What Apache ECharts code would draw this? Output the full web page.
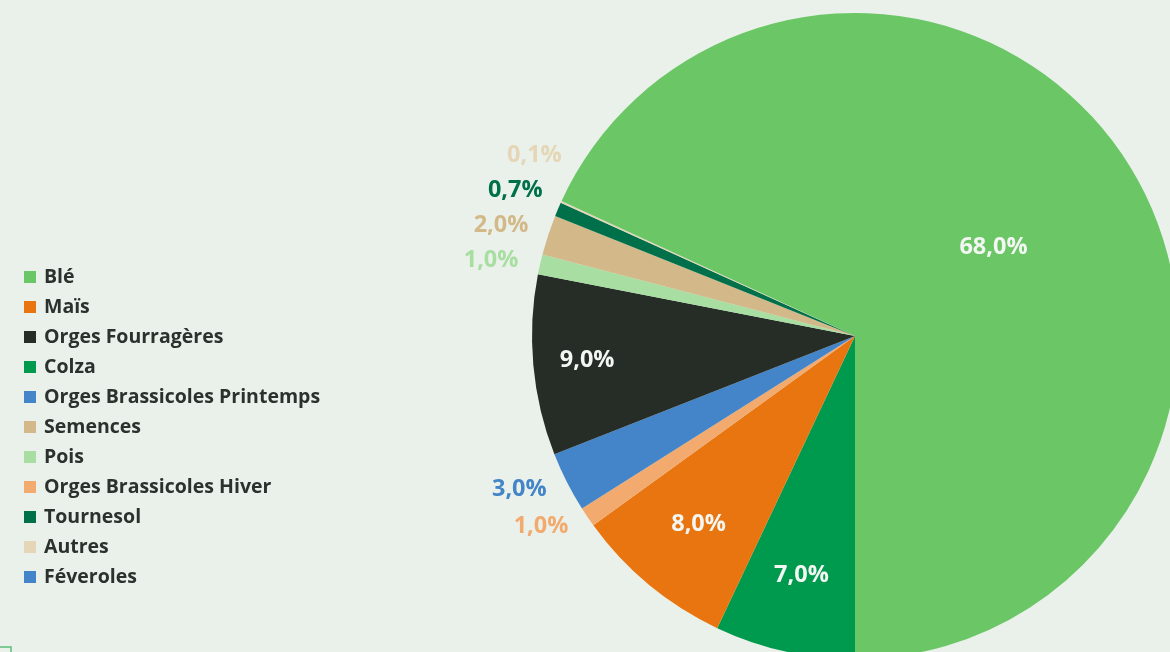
<!DOCTYPE html>
<html>
<head>
<meta charset="utf-8">
<script src="https://cdn.jsdelivr.net/npm/echarts@6/dist/echarts.min.js"></script>
<style>
html,body{margin:0;padding:0;background:#eaf1ea;}
#chart{width:1170px;height:652px;}
</style>
</head>
<body>
<div id="chart"></div>
<script>
// Slice order as drawn (clockwise from 6 o'clock: Colza ... Blé last)
const sliceNames = ['Colza','Maïs','Orges Brassicoles Hiver','Orges Brassicoles Printemps','Orges Fourragères','Pois','Semences','Tournesol','Autres','Féveroles','Blé'];
const sliceValues = [7.0, 8.0, 1.0, 3.0, 9.0, 1.0, 2.0, 0.7, 0.1, 0, 68.0];
const legendOrder = ['Blé','Maïs','Orges Fourragères','Colza','Orges Brassicoles Printemps','Semences','Pois','Orges Brassicoles Hiver','Tournesol','Autres','Féveroles'];
const colorMap = {
  'Blé':'#6bc766','Maïs':'#e8750f','Orges Fourragères':'#262d27','Colza':'#009a4e',
  'Orges Brassicoles Printemps':'#4385c8','Semences':'#d3b98a','Pois':'#a8dea2',
  'Orges Brassicoles Hiver':'#f2aa6f','Tournesol':'#00704a','Autres':'#e4d6b6','Féveroles':'#4385c8'
};
const insideMain = ['Blé'];
const ringLabels = [['Orges Fourragères'], ['Maïs','Colza']];
const ringRadii = [532, 484];
const upperLeft = ['Pois','Semences','Tournesol','Autres'];

const CX = 855, CY = 336, R = 323, LABEL_R = 340, GAP = 35;
const FONT = '"Open Sans", "Noto Sans", sans-serif';
const fmt = v => v.toFixed(1).replace('.', ',') + '%';
const inRing = n => ringLabels.some(g => g.includes(n));

const mainData = sliceNames.map((n, i) => {
  const d = {name: n, value: sliceValues[i], itemStyle: {color: colorMap[n]}};
  if (n === 'Féveroles' || inRing(n)) {
    d.label = {show: false};
  } else if (insideMain.includes(n)) {
    d.label = {show: true, position: 'inside', color: '#f3f6f3'};
  } else {
    d.label = {show: true, position: 'outside', color: colorMap[n]};
  }
  return d;
});

let prevCenter = null;
function outsideLayout(p) {
  const name = sliceNames[p.dataIndex];
  if (insideMain.includes(name) || inRing(name) || name === 'Féveroles') return {};
  const r = p.labelRect;
  let yc = r.y + r.height / 2;
  if (name === 'Pois') prevCenter = yc;
  else if (upperLeft.includes(name) && prevCenter != null) {
    yc = Math.min(yc, prevCenter - GAP);
    prevCenter = yc;
  }
  const dy = yc - CY;
  const x = CX - Math.sqrt(Math.max(0, LABEL_R * LABEL_R - dy * dy)) - 5;
  return {x: x, y: yc, align: 'right', verticalAlign: 'middle'};
}

const labelFont = {fontFamily: FONT, fontWeight: 'bold', fontSize: 23.5};

const series = [{
  type: 'pie',
  center: [CX, CY],
  radius: [0, R],
  startAngle: -90,
  clockwise: true,
  avoidLabelOverlap: false,
  data: mainData,
  label: Object.assign({formatter: p => fmt(p.value)}, labelFont),
  labelLine: {show: false, length: LABEL_R - R, length2: 0},
  labelLayout: outsideLayout,
  emphasis: {disabled: true}
}];

ringLabels.forEach((group, gi) => {
  series.push({
    type: 'pie',
    center: [CX, CY],
    radius: [0, ringRadii[gi]],
    startAngle: -90,
    clockwise: true,
    silent: true,
    avoidLabelOverlap: false,
    data: sliceNames.map((n, i) => ({
      name: n, value: sliceValues[i],
      itemStyle: {color: 'rgba(0,0,0,0)'},
      label: {show: group.includes(n), position: 'inside', color: '#f3f6f3'}
    })),
    label: Object.assign({formatter: p => fmt(p.value)}, labelFont),
    labelLine: {show: false},
    emphasis: {disabled: true}
  });
});

const chart = echarts.init(document.getElementById('chart'), null, {renderer: 'canvas'});
chart.setOption({
  backgroundColor: '#eaf1ea',
  animation: false,
  legend: {
    orient: 'vertical',
    left: 24,
    top: 267,
    padding: 0,
    data: legendOrder,
    icon: 'rect',
    itemWidth: 12,
    itemHeight: 12,
    itemGap: 10,
    textStyle: {fontFamily: FONT, fontWeight: 'bold', fontSize: 19.5, color: '#2b312c', lineHeight: 20, padding: [0, 0, 0, 3]},
    selectedMode: false
  },
  series: series,
  graphic: [
    {type: 'rect', shape: {x: -6, y: 647, width: 17, height: 20},
     style: {fill: 'rgba(0,0,0,0)', stroke: '#5dbd7c', lineWidth: 1.5}}
  ]
});
</script>
</body>
</html>
